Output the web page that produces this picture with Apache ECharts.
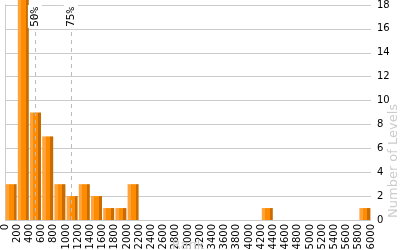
<!DOCTYPE html>
<html><head><meta charset="utf-8">
<script src="https://cdn.jsdelivr.net/npm/echarts@6/dist/echarts.min.js"></script>
<style>html,body{margin:0;padding:0;background:#fff}#c{width:400px;height:250px}</style>
</head><body><div id="c"></div>
<script>
var binStarts = [0,200,400,600,800,1000,1200,1400,1600,1800,2000,4200,5800];
var counts    = [3,19,9,7,3,2,3,2,1,1,3,1,1];
var binWidth = 200;
var xTickLabels = [];
for (var t = 0; t <= 6000; t += 200) xTickLabels.push(String(t));
var percentileNames = ['50%','75%'];
var percentileValues = [490,1080];
var yAxisName = 'Number of Levels';
var xAxisName = 'Rank';

var chart = echarts.init(document.getElementById('c'), null, {renderer:'canvas'});
var barData = binStarts.map(function(s,i){ return [s + binWidth/2, counts[i]]; });
var grad = new echarts.graphic.LinearGradient(0,0,1,0,[
  {offset:0, color:'#ffa33a'},{offset:0.3, color:'#ffa33a'},
  {offset:0.3, color:'#ff8c00'},{offset:0.72, color:'#ff8c00'},
  {offset:0.72, color:'#c86c00'},{offset:1, color:'#c86c00'}
]);
chart.setOption({
  animation:false,
  grid:{left:5,right:29,top:5,bottom:30,containLabel:false,outerBoundsMode:'none'},
  xAxis:{type:'value',min:0,max:6000,interval:200,
    axisLine:{show:false},axisTick:{show:false},splitLine:{show:false},
    axisLabel:{rotate:90,interval:0,fontSize:10,color:'#000',fontFamily:'DejaVu Sans',margin:4,hideOverlap:false,
      formatter:function(v){ var i = xTickLabels.indexOf(String(v)); return i>=0 ? xTickLabels[i] : ''; }}
  },
  yAxis:[{type:'value',position:'right',min:0,max:18,interval:2,
    axisLine:{show:true,lineStyle:{color:'#cccccc'}},axisTick:{show:false},
    splitLine:{show:true,lineStyle:{color:'#cccccc'}},
    axisLabel:{fontSize:10,color:'#000',fontFamily:'DejaVu Sans',margin:6}
  },{type:'value',position:'left',min:0,max:18,interval:2,
    axisLine:{show:true,lineStyle:{color:'#cccccc'}},axisTick:{show:false},
    splitLine:{show:false},axisLabel:{show:false}}],
  graphic:[
    {type:'text',x:394,y:218,rotation:Math.PI/2,z:100,
     style:{text:yAxisName,fill:'#cccccc',font:'13px "DejaVu Sans"',textAlign:'left',textVerticalAlign:'middle'}},
    {type:'text',x:188,y:246,z:100,
     style:{text:xAxisName,fill:'#cccccc',font:'13px "DejaVu Sans"',textAlign:'center',textVerticalAlign:'middle'}}
  ],
  series:[{type:'bar',data:barData,barWidth:11,clip:false,
    itemStyle:{color:grad},
    markLine:{silent:true,symbol:'none',animation:false,
      lineStyle:{color:'#bbbbbb',type:[4,4],width:1},
      label:{show:true,position:'insideEnd',formatter:function(p){return p.name;},
        color:'#000',fontSize:11,fontFamily:'DejaVu Sans Mono',distance:0,
        backgroundColor:'#ffffff',padding:[1,2,2,1]},
      data:percentileValues.map(function(v,i){return {name:percentileNames[i],xAxis:v};})
    }
  }]
});
</script></body></html>
